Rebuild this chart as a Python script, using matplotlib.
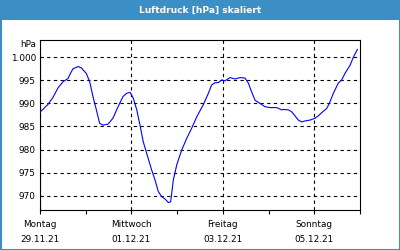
import matplotlib
matplotlib.use("Agg")
import matplotlib.pyplot as plt
from matplotlib.patches import Rectangle

# hours since Monday 29.11.21 00:00
hours = [0, 4.2, 6.8, 9.5, 12.1, 14.7, 15.6, 17.3, 20.0, 21.7, 24.3, 26.1, 27.8, 29.6,
         31.3, 33.1, 35.7, 38.3, 41.0, 43.6, 45.5, 47.3, 49.0, 50.8, 52.5, 54.2, 56.0,
         58.6, 60.4, 62.1, 63.9, 65.6, 67.4, 68.6, 70.0, 71.8, 74.4, 77.0, 79.6, 82.3,
         85.7, 88.4, 90.1, 91.9, 93.6, 95.4, 97.1, 99.8, 102.4, 105.0, 107.6, 109.4,
         111.1, 112.9, 115.5, 118.1, 120.8, 124.3, 126.9, 127.7, 130.4, 132.1, 133.9,
         135.6, 137.4, 139.1, 141.8, 144.4, 146.1, 147.9, 150.5, 151.9, 154.0, 156.6,
         158.4, 160.1, 162.8, 164.5, 166.6]
pressure = [988.1, 989.8, 991.3, 993.4, 994.7, 995.4, 996.2, 997.5, 998.0, 997.7, 996.5,
            994.7, 991.5, 988.6, 985.7, 985.3, 985.5, 986.8, 989.3, 991.5, 992.2, 992.4,
            991.1, 988.6, 985.3, 981.7, 979.2, 975.6, 973.4, 970.9, 969.8, 969.3, 968.5,
            968.7, 973.4, 976.7, 979.9, 982.4, 984.6, 987.1, 989.7, 992.2, 994.0, 994.5,
            994.5, 995.1, 994.9, 995.6, 995.3, 995.6, 995.5, 994.4, 992.5, 990.7, 990.0,
            989.3, 989.1, 989.1, 988.6, 988.7, 988.6, 988.2, 987.3, 986.4, 986.0, 986.2,
            986.4, 986.8, 987.3, 988.0, 988.9, 990.0, 992.2, 994.4, 995.1, 996.5, 998.3,
            1000.0, 1001.7]

ytick_values = [970, 975, 980, 985, 990, 995, 1000]
ytick_labels = ["970", "975", "980", "985", "990", "995", "1.000"]
day_ticks = [0, 48, 96, 144]
day_labels = ["Montag\n29.11.21", "Mittwoch\n01.12.21", "Freitag\n03.12.21", "Sonntag\n05.12.21"]
minor_ticks = [24, 72, 120, 168]

FONT = "DejaVu Sans"
FS = 6.4
blue_frame = "#3b8fc4"

fig = plt.figure(figsize=(4, 2.5), dpi=100, facecolor="white")

# title bar and frame
fig.patches.append(Rectangle((0, 230 / 250), 1, 20 / 250, transform=fig.transFigure,
                             facecolor=blue_frame, edgecolor="none", zorder=0))
fig.patches.append(Rectangle((0.5 / 400, 0.5 / 250), 399 / 400, 249 / 250, transform=fig.transFigure,
                             facecolor="none", edgecolor=blue_frame, linewidth=1.5, zorder=1))
fig.text(0.5, 240 / 250, "Luftdruck [hPa] skaliert", color="white", fontweight="bold",
         fontsize=6.6, family=FONT, ha="center", va="center")

ax = fig.add_axes([40 / 400, 40 / 250, 320 / 400, 170 / 250])
ax.set_facecolor("white")
ax.plot(hours, pressure, color="#0000ff", linewidth=0.8, zorder=3)

ax.set_xlim(0, 168)
ax.set_ylim(966.9, 1003.75)

ax.set_yticks(ytick_values)
ax.set_yticklabels(ytick_labels, family=FONT, fontsize=FS)
ax.tick_params(axis="y", length=0, pad=3)

ax.set_xticks(day_ticks)
ax.set_xticklabels(day_labels, family=FONT, fontsize=FS, linespacing=1.9)
ax.set_xticks(minor_ticks, minor=True)
ax.tick_params(axis="x", which="both", length=3, width=0.8, direction="out", pad=4)

ax.grid(True, which="major", color="black", linestyle=(0, (3, 3)), linewidth=0.8)
for s in ax.spines.values():
    s.set_color("black")
    s.set_linewidth(0.8)

ax.text(-0.012, 1.0, "hPa", transform=ax.transAxes, ha="right", va="top",
        family=FONT, fontsize=FS)

fig.savefig("out.png", dpi=100, facecolor="white")
